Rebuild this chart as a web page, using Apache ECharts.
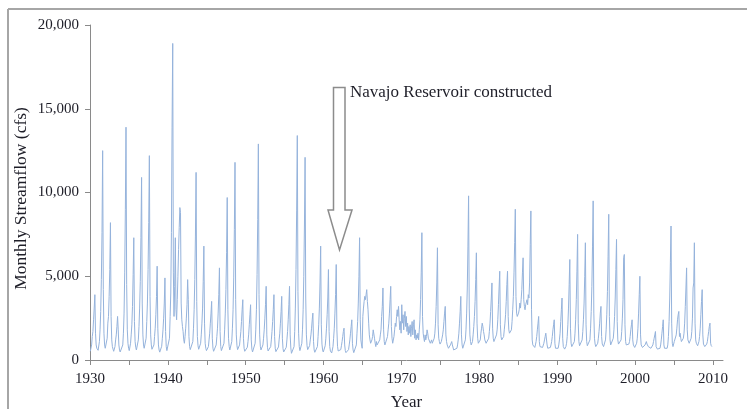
<!DOCTYPE html>
<html>
<head>
<meta charset="utf-8">
<script src="https://cdn.jsdelivr.net/npm/echarts@6/dist/echarts.min.js"></script>
<style>
  html, body { margin: 0; padding: 0; background: #fff; }
  #chart { width: 747px; height: 409px; }
</style>
</head>
<body>
<div id="chart"></div>
<script>
// monthly streamflow (cfs), Jan..Dec, one row per year
const flow1930s = [
  520,560,900,1400,1700,2400,3100,3900,1600,900,700,600,
  580,620,1100,1800,2900,4800,7600,12500,4200,1600,900,700,
  620,700,1300,2200,2600,3800,5400,8200,2600,1200,800,650,
  520,540,800,1200,1500,2000,2600,1800,900,600,480,420,
  400,450,900,1600,2800,5200,9000,13900,4500,1800,1000,700,
  560,600,1000,1500,2100,3200,5100,7300,2300,1100,760,600,
  580,640,1200,2000,3100,4700,7300,10900,3400,1500,900,700,
  600,680,1300,2300,3400,5400,8200,12200,3800,1500,900,640,
  540,580,900,1400,1900,2700,3800,5600,1900,900,600,470,
  440,480,820,1300,1800,2500,3400,4900,1700,800,560,480
];
const flow1940s = [
  520,600,1300,2600,4000,7600,13900,18900,5200,2600,4400,7300,
  3000,2400,3600,5000,6600,7900,9100,8800,3400,2400,2000,1700,
  1200,1000,1400,1900,2500,3300,4800,3600,1400,800,620,540,
  560,600,1100,1900,3000,4800,7400,11200,3500,1400,850,640,
  560,600,1000,1500,2200,3100,4700,6800,2200,1000,700,560,
  500,540,800,1200,1600,2200,2800,3500,1300,700,520,460,
  450,500,900,1400,1900,2800,3900,5500,1700,800,560,470,
  500,560,1000,1800,2800,4200,6400,9700,3000,1300,800,600,
  560,620,1100,1900,3000,4900,7800,11800,3600,1500,850,620,
  520,560,900,1300,1700,2300,3000,3600,1300,700,520,470
];
const flow1950s = [
  460,480,760,1100,1500,2100,2700,3300,1200,650,480,420,
  450,520,1000,1800,3000,5100,8400,12900,3900,1500,820,600,
  540,560,900,1300,1800,2500,3300,4400,1500,760,540,460,
  440,480,800,1200,1700,2300,3000,3900,1400,700,500,430,
  420,460,780,1200,1600,2200,2900,3800,1300,680,480,400,
  400,440,760,1200,1700,2400,3300,4400,1500,720,400,320,
  300,360,800,1700,3100,5400,8900,13400,4100,1600,800,560,
  520,580,1000,1800,3000,5000,8000,12100,3700,1500,850,620,
  560,580,860,1200,1500,1900,2400,2800,1100,600,460,400,
  380,420,800,1400,2100,3100,4600,6800,2100,950,600,480
];
const flow1960s = [
  460,500,850,1300,1900,2700,3700,5400,1700,800,540,440,
  420,460,800,1300,1900,2800,3900,5700,1800,820,540,430,
  420,440,620,850,1100,1400,1700,1900,900,560,440,400,
  380,400,620,900,1200,1600,2000,2400,1000,600,440,400,
  420,480,900,1600,2300,3400,5000,7300,2400,1200,900,700,
  2600,3100,3500,3800,3600,3900,4200,3500,3000,2200,1500,1200,
  1000,900,1200,1400,1800,1700,1300,1000,800,1100,900,800,
  800,900,1200,1500,1800,2600,3200,4300,1800,1100,900,800,
  900,1000,1400,1800,2200,2800,3600,4400,2000,1300,1000,900,
  1400,1800,2200,2000,2600,3000,2600,3200,2400,1800,2300,1600
];
const flow1970s = [
  3300,2200,2700,1800,2500,2900,2000,2600,1700,2200,1500,2000,
  1600,2100,1400,1900,2300,1500,2100,2400,1300,1800,1200,1500,
  1300,1600,1200,1800,2400,3600,5200,7600,2600,1600,1300,1100,
  1500,1200,1400,1800,1600,1300,1400,1200,1000,1100,1200,1000,
  1000,1100,1300,1600,2200,3200,4600,6700,2100,1300,1100,950,
  1000,1100,1300,1500,1800,2300,2800,3200,1500,1100,900,800,
  700,650,800,900,1000,1100,900,800,600,700,650,600,
  600,700,900,1200,1600,2200,2900,3800,1500,900,700,650,
  650,800,1200,1800,2800,4300,6800,9800,3100,1500,1100,900,
  900,1100,1500,2000,2600,3500,4800,6400,2200,1300,1000,900
];
const flow1980s = [
  1000,1200,1600,1900,2200,2000,1700,1500,1200,1100,1000,900,
  900,1000,1300,1700,2200,2900,3700,4600,1900,1300,1100,1000,
  1000,1200,1500,1800,2400,3300,4300,5300,2100,1400,1200,1100,
  1200,1400,1800,2200,2700,3500,4500,5300,2600,1800,1600,1500,
  1600,1800,2300,3000,3800,5200,7000,9000,3800,2800,2600,2500,
  2800,3000,3400,3100,3600,4200,5200,6100,3600,3200,3000,3300,
  3400,3600,3300,3900,3700,4600,6900,8900,3000,1200,900,800,
  800,750,900,1100,1400,1800,2200,2600,1100,800,700,700,
  700,750,800,1000,1200,1400,1600,1700,900,700,650,700,
  700,750,900,1100,1400,1800,2100,2400,1000,700,650,600
];
const flow1990s = [
  650,700,900,1200,1600,2300,3000,3700,1300,800,700,650,
  700,800,1000,1400,2100,3100,4500,6000,1900,1000,800,700,
  750,850,1100,1600,2400,3600,5300,7500,2200,1100,850,750,
  800,900,1200,1700,2400,3400,5000,7000,2100,1100,850,750,
  750,850,1200,1900,2900,4400,6800,9500,2800,1300,950,800,
  800,850,1000,1300,1700,2200,2800,3200,1400,950,850,800,
  800,900,1200,1800,2700,4100,6200,8700,2600,1200,900,800,
  850,950,1300,1800,2600,3700,5400,7200,2300,1200,950,850,
  850,950,1200,1700,2500,3600,6100,6300,2100,1100,900,800,
  800,850,950,1100,1400,1800,2100,2400,1200,900,800,750
];
const flow2000s = [
  750,800,1000,1300,1900,2800,3900,5000,1500,900,800,750,
  750,700,800,900,1000,1100,950,900,800,750,700,700,
  700,720,800,900,1100,1300,1500,1700,800,700,650,650,
  600,620,700,900,1200,1600,2000,2400,900,700,650,600,
  600,700,900,1400,2300,3700,5800,8000,2200,1000,800,700,
  1100,1000,1200,1500,1900,2400,2700,2900,1400,1600,1300,1100,
  1000,1100,1300,1600,2200,3200,4300,5500,1800,1200,1100,1000,
  1000,1100,1300,1700,2500,4300,4600,7000,2200,1200,1000,900,
  850,900,1100,1400,1900,2700,3500,4200,1500,950,850,800,
  800,850,950,1100,1400,1700,2000,2200,1000,850,800,800
];

const decades = [
  [1930, flow1930s], [1940, flow1940s], [1950, flow1950s], [1960, flow1960s],
  [1970, flow1970s], [1980, flow1980s], [1990, flow1990s], [2000, flow2000s]
];
const tickYears = [1930,1935,1940,1945,1950,1955,1960,1965,1970,1975,1980,1985,1990,1995,2000,2005,2010];
const labelYears = [1930,1940,1950,1960,1970,1980,1990,2000,2010];

const seriesData = [];
decades.forEach(([start, vals]) => {
  vals.forEach((v, i) => {
    const year = start + Math.floor(i / 12);
    const month = i % 12;
    seriesData.push([year + (month + 0.5) / 12, v]);
  });
});

const serif = '"Liberation Serif", "DejaVu Serif", serif';
const textColor = '#1e1e28';
const axisGrey = '#8a8a8a';

const chart = echarts.init(document.getElementById('chart'));
chart.setOption({
  animation: false,
  backgroundColor: '#fff',
  grid: { left: 90, right: 24, top: 25, bottom: 49, outerBoundsMode: 'none', containLabel: false },
  xAxis: {
    type: 'value',
    min: 1930,
    max: 2011.3,
    name: 'Year',
    nameLocation: 'middle',
    nameGap: 34,
    nameTextStyle: { fontFamily: serif, fontSize: 17, color: textColor },
    axisLine: { show: true, lineStyle: { color: axisGrey, width: 1 } },
    axisTick: { show: true, length: 5, customValues: tickYears, lineStyle: { color: axisGrey } },
    axisLabel: {
      customValues: labelYears,
      fontFamily: serif, fontSize: 15, color: textColor, margin: 12,
      formatter: v => String(v)
    },
    splitLine: { show: false }
  },
  yAxis: {
    type: 'value',
    min: 0,
    max: 20000,
    interval: 5000,
    name: 'Monthly Streamflow (cfs)',
    nameLocation: 'middle',
    nameGap: 60,
    nameMoveOverlap: false,
    nameTextStyle: { fontFamily: serif, fontSize: 17.5, color: textColor, padding: [0, 12, 0, 0] },
    axisLine: { show: true, lineStyle: { color: axisGrey, width: 1 } },
    axisTick: { show: true, length: 5, lineStyle: { color: axisGrey } },
    axisLabel: {
      fontFamily: serif, fontSize: 15, color: textColor, margin: 11,
      formatter: v => v.toLocaleString('en-US')
    },
    splitLine: { show: false }
  },
  series: [{
    type: 'line',
    data: seriesData,
    showSymbol: false,
    lineStyle: { color: '#95b3dc', width: 1 },
    silent: true
  }],
  graphic: [
    { type: 'line', shape: { x1: 8, y1: 9, x2: 747, y2: 9 }, style: { stroke: '#a6a6a6', lineWidth: 2 } },
    { type: 'line', shape: { x1: 8, y1: 9, x2: 8, y2: 409 }, style: { stroke: '#a6a6a6', lineWidth: 2 } },
    {
      type: 'polygon',
      z: 100,
      shape: { points: [[333.5, 87.5], [345, 87.5], [345, 210], [352, 210], [339.5, 250], [328, 210], [333.5, 210]] },
      style: { fill: '#fff', stroke: '#8c8c8c', lineWidth: 1.5 }
    },
    {
      type: 'text',
      z: 100,
      x: 350,
      y: 93,
      style: {
        text: 'Navajo Reservoir constructed',
        font: '17px ' + serif,
        fill: textColor,
        verticalAlign: 'middle'
      }
    }
  ]
});
</script>
</body>
</html>
